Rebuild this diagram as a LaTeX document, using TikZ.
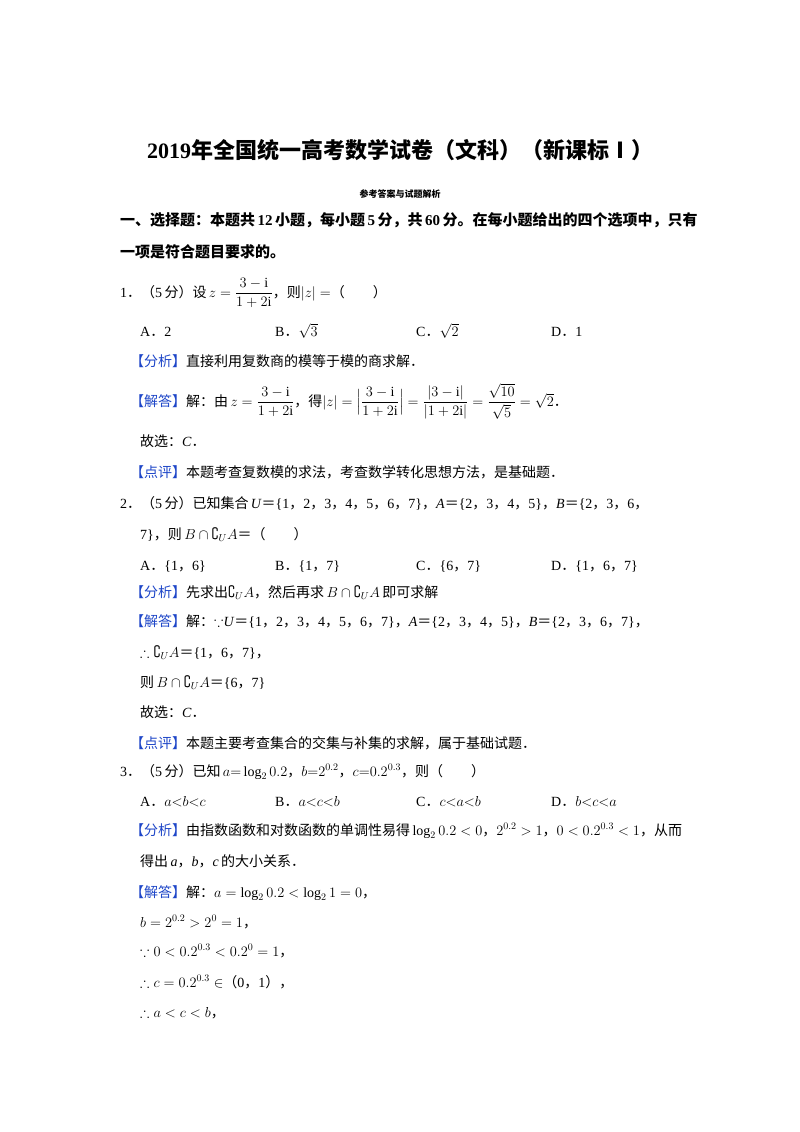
\documentclass[tikz,border=0pt]{standalone}
\usepackage{amsmath,amssymb}
\usepackage{fontspec}
\setmainfont{Liberation Serif}
\newfontfamily\cjk{Noto Sans CJK SC}
\newcommand\zh[1]{{\cjk #1}}
\newcommand\zb[1]{{\cjk\bfseries #1}}
\newcommand\zc{{\cjk ，}}
\newcommand\zd{{\cjk ．}}
\newcommand\ze{{\cjk ＝}}
\definecolor{tagblue}{RGB}{30,70,200}
\newcommand\blab[1]{{\color{tagblue}\cjk 【#1】}}
\newcommand\ii{\mathrm{i}}
\begin{document}
\begin{tikzpicture}[x=1pt,y=-1pt,
  txt/.style={anchor=base west,inner sep=0pt,font=\fontsize{14}{16}\selectfont}]
\useasboundingbox[fill=white] (0,0) rectangle (800,1132);
\node[anchor=base,inner sep=0pt,font=\fontsize{22}{24}\selectfont\bfseries] (title) at (400,158) {2019\zb{年全国统一高考数学试卷（文科）（新课标Ⅰ）}};
\node[anchor=base,inner sep=0pt,font=\fontsize{9}{10}\selectfont] (sub) at (400,197) {\zb{参考答案与试题解析}};
\node[txt,font=\fontsize{15}{17}\selectfont] (h1) at (120,225) {\zb{一、选择题：本题共}\,\textbf{12}\,\zb{小题，每小题}\,\textbf{5}\,\zb{分，共}\,\textbf{60}\,\zb{分。在每小题给出的四个选项中，只有}};
\node[txt,font=\fontsize{15}{17}\selectfont] (h2) at (120,257) {\zb{一项是符合题目要求的。}};
% Q1
\node[txt] (q1) at (120,297) {1\zd\zh{（}5\,\zh{分）设}\,$z=\dfrac{3-\ii}{1+2\ii}$\zh{，则}$|z|=$\zh{（\quad\quad）}};
\node[txt] (q1a) at (140,336) {A\zd 2};
\node[txt] (q1b) at (275,336) {B\zd$\sqrt{3}$};
\node[txt] (q1c) at (416,336) {C\zd$\sqrt{2}$};
\node[txt] (q1d) at (551,336) {D\zd 1};
\node[txt] (q1f) at (130,366) {\blab{分析}\zh{直接利用复数商的模等于模的商求解．}};
\node[txt] (q1j) at (130,406) {\blab{解答}\zh{解：由}\,$z=\dfrac{3-\ii}{1+2\ii}$\zh{，得}$|z|=\Big|\dfrac{3-\ii}{1+2\ii}\Big|=\dfrac{|3-\ii|}{|1+2\ii|}=\dfrac{\sqrt{10}}{\sqrt{5}}=\sqrt{2}$\zd};
\node[txt] (q1x) at (140,446) {\zh{故选：}\textit{C}\zd};
\node[txt] (q1p) at (130,477) {\blab{点评}\zh{本题考查复数模的求法，考查数学转化思想方法，是基础题．}};
% Q2
\node[txt] (q2) at (120,508) {2\zd\zh{（}5\,\zh{分）已知集合}\,\textit{U}\ze\{1\zc 2\zc 3\zc 4\zc 5\zc 6\zc 7\}\zc\textit{A}\ze\{2\zc 3\zc 4\zc 5\}\zc\textit{B}\ze\{2\zc 3\zc 6\zc};
\node[txt] (q2b) at (140,539) {7\}\zh{，则}\,$B\cap\complement_{U}A$\ze\zh{（\quad\quad）}};
\node[txt] (q2oa) at (140,570) {A\zd\{1\zc 6\}};
\node[txt] (q2ob) at (275,570) {B\zd\{1\zc 7\}};
\node[txt] (q2oc) at (416,570) {C\zd\{6\zc 7\}};
\node[txt] (q2od) at (551,570) {D\zd\{1\zc 6\zc 7\}};
\node[txt] (q2f) at (130,597) {\blab{分析}\zh{先求出}$\complement_{U}A$\zh{，然后再求}\,$B\cap\complement_{U}A$\,\zh{即可求解}};
\node[txt] (q2j) at (130,626) {\blab{解答}\zh{解：}$\because$\textit{U}\ze\{1\zc 2\zc 3\zc 4\zc 5\zc 6\zc 7\}\zc\textit{A}\ze\{2\zc 3\zc 4\zc 5\}\zc\textit{B}\ze\{2\zc 3\zc 6\zc 7\}\zc};
\node[txt] (q2t) at (140,657) {$\therefore\complement_{U}A$\ze\{1\zc 6\zc 7\}\zc};
\node[txt] (q2z) at (140,687) {\zh{则}\,$B\cap\complement_{U}A$\ze\{6\zc 7\}};
\node[txt] (q2x) at (140,717) {\zh{故选：}\textit{C}\zd};
\node[txt] (q2p) at (130,748) {\blab{点评}\zh{本题主要考查集合的交集与补集的求解，属于基础试题．}};
% Q3
\node[txt] (q3) at (120,776) {3\zd\zh{（}5\,\zh{分）已知}\,$a{=}\log_2 0.2$\zc$b{=}2^{0.2}$\zc$c{=}0.2^{0.3}$\zh{，则（\quad\quad）}};
\node[txt] (q3a) at (140,806) {A\zd$a{<}b{<}c$};
\node[txt] (q3b) at (275,806) {B\zd$a{<}c{<}b$};
\node[txt] (q3c) at (416,806) {C\zd$c{<}a{<}b$};
\node[txt] (q3d) at (551,806) {D\zd$b{<}c{<}a$};
\node[txt] (q3f) at (130,835) {\blab{分析}\zh{由指数函数和对数函数的单调性易得}\,$\log_2 0.2<0$\zc$2^{0.2}>1$\zc$0<0.2^{0.3}<1$\zh{，从而}};
\node[txt] (q3f2) at (140,866) {\zh{得出}\,\textit{a}\zc\textit{b}\zc\textit{c}\,\zh{的大小关系．}};
\node[txt] (q3j) at (130,897) {\blab{解答}\zh{解：}$a=\log_2 0.2<\log_2 1=0$\zc};
\node[txt] (q3j2) at (140,927) {$b=2^{0.2}>2^{0}=1$\zc};
\node[txt] (q3j3) at (140,956) {$\because 0<0.2^{0.3}<0.2^{0}=1$\zc};
\node[txt] (q3j4) at (140,987) {$\therefore c=0.2^{0.3}\in$\zh{（}0\zc 1\zh{）}\zc};
\node[txt] (q3j5) at (140,1017) {$\therefore a<c<b$\zc};
\end{tikzpicture}
\end{document}
